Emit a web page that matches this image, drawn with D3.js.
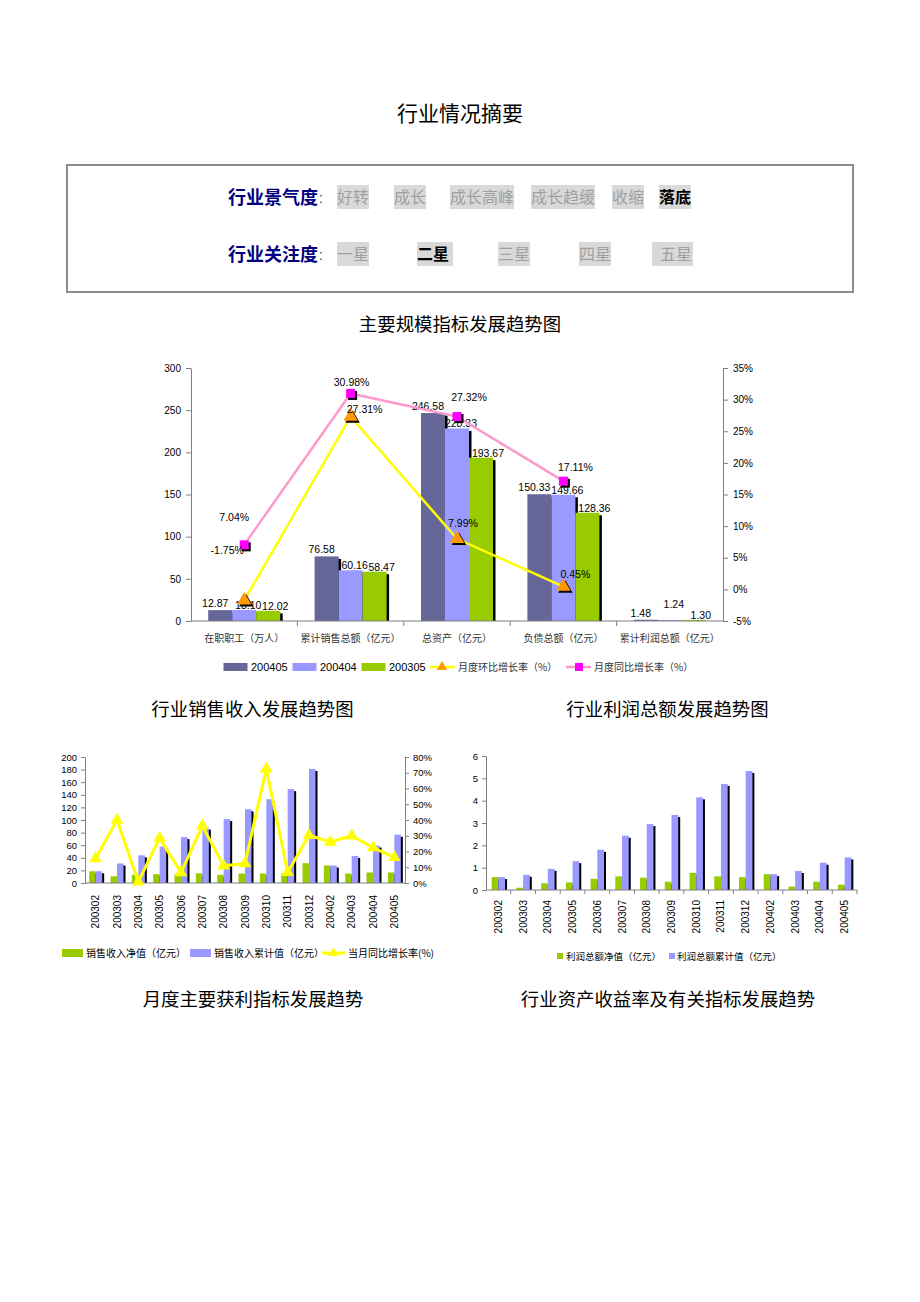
<!DOCTYPE html>
<html><head><meta charset="utf-8">
<script src="https://cdn.jsdelivr.net/npm/d3@7/dist/d3.min.js"></script>
<style>
body{margin:0;background:#fff}
svg{display:block}
text{font-family:"Liberation Sans",Arial,"Noto Sans CJK SC",sans-serif}
.cjk{font-family:"Noto Sans CJK SC","Liberation Sans",sans-serif}
</style>
</head><body>
<svg id="c" width="920" height="1302"></svg>
<script>
// ---------------- DATA ----------------
const pageTitle = "行业情况摘要";
const climateLabel = "行业景气度";
const climateOptions = ["好转","成长","成长高峰","成长趋缓","收缩","落底"];
const climateSelected = "落底";
const attentionLabel = "行业关注度";
const attentionOptions = ["一星","二星","三星","四星","五星"];
const attentionSelected = "二星";

const mainTitle = "主要规模指标发展趋势图";
const mainCategories = ["在职职工（万人）","累计销售总额（亿元）","总资产（亿元）","负债总额（亿元）","累计利润总额（亿元）"];
const mainSeriesNames = ["200405","200404","200305"];
const v200405 = [12.87, 76.58, 246.58, 150.33, 1.48];
const v200404 = [13.10, 60.16, 228.33, 149.66, 1.24];
const v200305 = [12.02, 58.47, 193.67, 128.36, 1.30];
const momRateName = "月度环比增长率（%）";
const momRate = [-1.75, 27.31, 7.99, 0.45];
const yoyRateName = "月度同比增长率（%）";
const yoyRate = [7.04, 30.98, 27.32, 17.11];
const mainLeftTicks = [0, 50, 100, 150, 200, 250, 300];
const mainRightTicks = [-5, 0, 5, 10, 15, 20, 25, 30, 35];

const months = ["200302","200303","200304","200305","200306","200307","200308","200309","200310","200311","200312","200402","200403","200404","200405"];
const salesTitle = "行业销售收入发展趋势图";
const salesNetName = "销售收入净值（亿元）";
const salesCumName = "销售收入累计值（亿元）";
const salesYoYName = "当月同比增长率(%)";
const salesNet = [18.6, 10.6, 13, 14, 14, 15.4, 13, 15, 15, 15, 31.4, 27.7, 15, 16.7, 16.7];
const salesCum = [18.6, 31, 44, 58, 72.8, 88, 101.5, 117, 133, 149, 181, 27.7, 43, 59.5, 76.6];
const salesYoY = [15.5, 40, 0.8, 28.5, 6.6, 36.3, 10.9, 12.4, 72.5, 6.8, 30.3, 26, 30, 22.5, 16.3];
const salesLeftTicks = [0,20,40,60,80,100,120,140,160,180,200];
const salesRightTicks = [0,10,20,30,40,50,60,70,80];

const profitTitle = "行业利润总额发展趋势图";
const profitNetName = "利润总额净值（亿元）";
const profitCumName = "利润总额累计值（亿元）";
const profitNet = [0.58, 0.1, 0.3, 0.34, 0.5, 0.61, 0.55, 0.37, 0.77, 0.61, 0.58, 0.71, 0.15, 0.37, 0.24];
const profitCum = [0.58, 0.68, 0.95, 1.29, 1.8, 2.43, 2.95, 3.36, 4.15, 4.75, 5.33, 0.71, 0.85, 1.22, 1.46];
const profitTicks = [0,1,2,3,4,5,6];

const footerTitles = ["月度主要获利指标发展趋势","行业资产收益率及有关指标发展趋势"];

// ---------------- STYLE / LAYOUT ----------------
const C = {dark:"#666699", blue:"#9999FF", green:"#99CC00", yellow:"#FFFF00", orange:"#FF9900", pink:"#FF99CC", magenta:"#FF00FF", axis:"#808080"};
const svg = d3.select("#c");

function styleAxis(g, fs){
  g.select(".domain").attr("stroke", C.axis).attr("stroke-width", 1);
  g.selectAll(".tick line").attr("stroke", C.axis);
  g.selectAll(".tick text").attr("fill","#000").attr("font-size", fs).attr("font-family","Liberation Sans, Arial, sans-serif");
}
function shadowBar(g, x, yTop, w, base, fill, off){
  const h = base - yTop;
  if (h <= 0) return;
  g.append("rect").attr("x", x+off).attr("y", yTop+off).attr("width", w).attr("height", Math.max(0,h-off)).attr("fill","#000");
  g.append("rect").attr("x", x).attr("y", yTop).attr("width", w).attr("height", h).attr("fill", fill);
}

// ---------------- HEADER ----------------
svg.append("text").attr("class","cjk").attr("x",460).attr("y",121).attr("text-anchor","middle")
  .attr("font-size",21).attr("fill","#000").text(pageTitle);

svg.append("rect").attr("x",67).attr("y",165).attr("width",786).attr("height",127)
  .attr("fill","#fff").attr("stroke","#8c8c8c").attr("stroke-width",2);

const climateX = [337, 394, 450, 531, 612, 659];
const attentionX = [337, 417, 498, 579, 652];
function optionRow(label, opts, sel, xs, cy){
  svg.append("text").attr("class","cjk").attr("x",228).attr("y",cy+6.5).attr("font-size",18)
    .attr("font-weight","bold").attr("fill","#000080").text(label);
  svg.append("text").attr("x",319).attr("y",cy+6).attr("font-size",14).attr("fill","#444").text(":");
  opts.forEach((o,i)=>{
    const isSel = o === sel;
    const last5 = (i===opts.length-1 && opts.length===5);
    const w = o.length*16 + (last5 ? 9 : 0) + (isSel && opts.length===5 ? 4 : 0);
    svg.append("rect").attr("x", xs[i]).attr("y", cy-12).attr("width", w).attr("height", 24).attr("fill","#d9d9d9");
    svg.append("text").attr("class","cjk").attr("x", xs[i] + (last5 ? 8 : 0)).attr("y", cy+6)
      .attr("font-size",16).attr("font-weight", isSel?"bold":"normal").attr("fill", isSel?"#000":"#a0a0a0").text(o);
  });
}
optionRow(climateLabel, climateOptions, climateSelected, climateX, 197);
optionRow(attentionLabel, attentionOptions, attentionSelected, attentionX, 254);

// ---------------- MAIN CHART ----------------
svg.append("text").attr("class","cjk").attr("x",460).attr("y",331).attr("text-anchor","middle")
  .attr("font-size",18.4).attr("fill","#000").text(mainTitle);

const M = {l:191, r:723, t:368, b:621};
const x0 = d3.scaleBand().domain(mainCategories).range([M.l, M.r]);
const groupW = 72;
const x1 = d3.scaleBand().domain(mainSeriesNames).range([(x0.bandwidth()-groupW)/2, (x0.bandwidth()+groupW)/2]);
const yL = d3.scaleLinear().domain([0,300]).range([M.b, M.t]);
const yR = d3.scaleLinear().domain([-5,35]).range([M.b, M.t]);
const mainG = svg.append("g");

const mainSeries = [
  {name:"200405", values:v200405, color:C.dark},
  {name:"200404", values:v200404, color:C.blue},
  {name:"200305", values:v200305, color:C.green}
];

// bars
mainCategories.forEach((c,i)=>{
  mainSeries.forEach(s=>{
    shadowBar(mainG, x0(c)+x1(s.name), yL(s.values[i]), x1.bandwidth(), yL(0), s.color, 2.5);
  });
});

// axes
const axL = mainG.append("g").attr("transform",`translate(${M.l},0)`)
  .call(d3.axisLeft(yL).tickValues(mainLeftTicks).tickSize(5).tickSizeOuter(0).tickPadding(5));
styleAxis(axL, 10);
const axR = mainG.append("g").attr("transform",`translate(${M.r},0)`)
  .call(d3.axisRight(yR).tickValues(mainRightTicks).tickSize(5).tickSizeOuter(0).tickPadding(5).tickFormat(d=>d+"%"));
styleAxis(axR, 10);
mainG.append("line").attr("x1",M.l).attr("x2",M.r).attr("y1",M.b).attr("y2",M.b).attr("stroke",C.axis);
mainCategories.slice(0,-1).forEach(c=>{
  const xx = x0(c)+x0.bandwidth();
  mainG.append("line").attr("x1",xx).attr("x2",xx).attr("y1",M.b).attr("y2",M.b+5).attr("stroke",C.axis);
});
mainCategories.forEach(c=>{
  mainG.append("text").attr("class","cjk").attr("x", x0(c)+x0.bandwidth()/2).attr("y", 642)
    .attr("text-anchor","middle").attr("font-size",10).attr("fill","#333").text(c);
});

// bar labels (series-wise nudges, as in the reference)
const barLabelDx = [-5, 4, 7];
const barLabelDy = [-3, -1, -1];
mainCategories.forEach((c,i)=>{
  mainSeries.forEach((s,k)=>{
    const lift = (s.values[i] < 5 && k === 1) ? -11 : 0;
    mainG.append("text").attr("x", x0(c)+x1(s.name)+x1.bandwidth()/2 + barLabelDx[k]).attr("y", yL(s.values[i]) + barLabelDy[k] + lift)
      .attr("text-anchor","middle").attr("font-size",10.5).attr("fill","#000").text(s.values[i].toFixed(2));
  });
});

// lines
const cx = i => x0(mainCategories[i]) + x0.bandwidth()/2;
const lineR = d3.line().x((d,i)=>cx(i)).y(d=>yR(d));
mainG.append("path").datum(yoyRate).attr("d", lineR).attr("fill","none").attr("stroke",C.pink).attr("stroke-width",2.5);
mainG.append("path").datum(momRate).attr("d", lineR).attr("fill","none").attr("stroke",C.yellow).attr("stroke-width",2.5);

const triSym = d3.symbol().type(d3.symbolTriangle).size(90);
yoyRate.forEach((d,i)=>{
  mainG.append("rect").attr("x",cx(i)-4.5+2).attr("y",yR(d)-4.5+2).attr("width",9).attr("height",9).attr("fill","#000");
  mainG.append("rect").attr("x",cx(i)-4.5).attr("y",yR(d)-4.5).attr("width",9).attr("height",9).attr("fill",C.magenta);
});
momRate.forEach((d,i)=>{
  mainG.append("path").attr("d",triSym).attr("transform",`translate(${cx(i)+2},${yR(d)+2})`).attr("fill","#000");
  mainG.append("path").attr("d",triSym).attr("transform",`translate(${cx(i)},${yR(d)})`).attr("fill",C.orange);
});
const yoyLabelOff = [[-10,-24],[1,-7],[12,-16],[12,-10]];
const momLabelOff = [[-17,-46],[14,-4],[6,-12],[12,-9]];
yoyRate.forEach((d,i)=>{
  mainG.append("text").attr("x",cx(i)+yoyLabelOff[i][0]).attr("y",yR(d)+yoyLabelOff[i][1])
    .attr("text-anchor","middle").attr("font-size",10.5).text(d.toFixed(2)+"%");
});
momRate.forEach((d,i)=>{
  mainG.append("text").attr("x",cx(i)+momLabelOff[i][0]).attr("y",yR(d)+momLabelOff[i][1])
    .attr("text-anchor","middle").attr("font-size",10.5).text(d.toFixed(2)+"%");
});

// legend main
const lg = svg.append("g");
const ly = 667;
[[223.5,"200405",C.dark],[292.5,"200404",C.blue],[361.5,"200305",C.green]].forEach(([lx,t,col])=>{
  lg.append("rect").attr("x",lx).attr("y",ly-4).attr("width",24).attr("height",8).attr("fill",col);
  lg.append("text").attr("x",lx+27.5).attr("y",ly+4).attr("font-size",11).text(t);
});
lg.append("line").attr("x1",430).attr("x2",455).attr("y1",ly).attr("y2",ly).attr("stroke",C.yellow).attr("stroke-width",2.5);
lg.append("path").attr("d",d3.symbol().type(d3.symbolTriangle).size(45)).attr("transform",`translate(442,${ly})`).attr("fill",C.orange);
lg.append("text").attr("class","cjk").attr("x",458).attr("y",ly+4).attr("font-size",10).attr("fill","#333").text(momRateName);
lg.append("line").attr("x1",566).attr("x2",591).attr("y1",ly).attr("y2",ly).attr("stroke",C.pink).attr("stroke-width",2.5);
lg.append("rect").attr("x",575).attr("y",ly-4).attr("width",8).attr("height",8).attr("fill",C.magenta);
lg.append("text").attr("class","cjk").attr("x",594).attr("y",ly+4).attr("font-size",10).attr("fill","#333").text(yoyRateName);

// ---------------- SUB TITLES ----------------
svg.append("text").attr("class","cjk").attr("x",252.5).attr("y",716).attr("text-anchor","middle").attr("font-size",18.4).text(salesTitle);
svg.append("text").attr("class","cjk").attr("x",667.5).attr("y",716).attr("text-anchor","middle").attr("font-size",18.4).text(profitTitle);

// ---------------- SALES CHART ----------------
const S = {l:85, r:405, t:757, b:883};
const sx = d3.scaleBand().domain(months).range([S.l,S.r]);
const sIn = d3.scaleBand().domain(["net","cum"]).range([(sx.bandwidth()-13)/2,(sx.bandwidth()+13)/2]);
const sy = d3.scaleLinear().domain([0,200]).range([S.b,S.t]);
const sy2 = d3.scaleLinear().domain([0,80]).range([S.b,S.t]);
const sg = svg.append("g");
months.forEach((m,i)=>{
  shadowBar(sg, sx(m)+sIn("net"), sy(salesNet[i]), sIn.bandwidth(), S.b, C.green, 2);
  shadowBar(sg, sx(m)+sIn("cum"), sy(salesCum[i]), sIn.bandwidth(), S.b, C.blue, 2);
});
const saL = sg.append("g").attr("transform",`translate(${S.l},0)`)
  .call(d3.axisLeft(sy).tickValues(salesLeftTicks).tickSize(4).tickSizeOuter(0).tickPadding(4));
styleAxis(saL, 9.5);
const saR = sg.append("g").attr("transform",`translate(${S.r},0)`)
  .call(d3.axisRight(sy2).tickValues(salesRightTicks).tickSize(4).tickSizeOuter(0).tickPadding(4).tickFormat(d=>d+"%"));
styleAxis(saR, 9.5);
sg.append("line").attr("x1",S.l).attr("x2",S.r).attr("y1",S.b).attr("y2",S.b).attr("stroke",C.axis);
months.forEach(m=>{
  sg.append("text").attr("transform",`translate(${sx(m)+sx.bandwidth()/2+3.5},895) rotate(-90)`)
    .attr("text-anchor","end").attr("font-size",10).text(m);
});
const scx = i => sx(months[i]) + sx.bandwidth()/2;
sg.append("path").datum(salesYoY).attr("d", d3.line().x((d,i)=>scx(i)).y(d=>sy2(d)))
  .attr("fill","none").attr("stroke",C.yellow).attr("stroke-width",3);
const triS = d3.symbol().type(d3.symbolTriangle).size(70);
salesYoY.forEach((d,i)=>{
  sg.append("path").attr("d",triS).attr("transform",`translate(${scx(i)},${sy2(d)})`).attr("fill",C.yellow);
});
const sly = 953;
sg.append("rect").attr("x",62).attr("y",sly-4).attr("width",21).attr("height",8).attr("fill",C.green);
sg.append("text").attr("class","cjk").attr("x",86).attr("y",sly+4).attr("font-size",10).text(salesNetName);
sg.append("rect").attr("x",190).attr("y",sly-4).attr("width",21).attr("height",8).attr("fill",C.blue);
sg.append("text").attr("class","cjk").attr("x",214).attr("y",sly+4).attr("font-size",10).text(salesCumName);
sg.append("line").attr("x1",322).attr("x2",345).attr("y1",sly).attr("y2",sly).attr("stroke",C.yellow).attr("stroke-width",3);
sg.append("path").attr("d",d3.symbol().type(d3.symbolTriangle).size(45)).attr("transform",`translate(333.5,${sly})`).attr("fill",C.yellow);
sg.append("text").attr("class","cjk").attr("x",348).attr("y",sly+4).attr("font-size",10).text(salesYoYName);

// ---------------- PROFIT CHART ----------------
const P = {l:486, r:857, t:756, b:890};
const px = d3.scaleBand().domain(months).range([P.l,P.r]);
const pIn = d3.scaleBand().domain(["net","cum"]).range([(px.bandwidth()-13.4)/2,(px.bandwidth()+13.4)/2]);
const py = d3.scaleLinear().domain([0,6]).range([P.b,P.t]);
const pg = svg.append("g");
months.forEach((m,i)=>{
  shadowBar(pg, px(m)+pIn("net"), py(profitNet[i]), pIn.bandwidth(), P.b, C.green, 2);
  shadowBar(pg, px(m)+pIn("cum"), py(profitCum[i]), pIn.bandwidth(), P.b, C.blue, 2);
});
const paL = pg.append("g").attr("transform",`translate(${P.l},0)`)
  .call(d3.axisLeft(py).tickValues(profitTicks).tickSize(4).tickSizeOuter(0).tickPadding(4).tickFormat(d3.format("d")));
styleAxis(paL, 9.5);
pg.append("line").attr("x1",P.l).attr("x2",P.r).attr("y1",P.b).attr("y2",P.b).attr("stroke",C.axis);
months.forEach(m=>{
  const xx = px(m)+px.bandwidth();
  pg.append("line").attr("x1",xx).attr("x2",xx).attr("y1",P.b).attr("y2",P.b+4).attr("stroke",C.axis);
  pg.append("text").attr("transform",`translate(${px(m)+px.bandwidth()/2+3.5},900) rotate(-90)`)
    .attr("text-anchor","end").attr("font-size",10).text(m);
});
const ply = 956;
pg.append("rect").attr("x",557).attr("y",ply-3).attr("width",6).attr("height",6).attr("fill",C.green);
pg.append("text").attr("class","cjk").attr("x",566).attr("y",ply+3.5).attr("font-size",9.5).text(profitNetName);
pg.append("rect").attr("x",669).attr("y",ply-3).attr("width",6).attr("height",6).attr("fill",C.blue);
pg.append("text").attr("class","cjk").attr("x",677).attr("y",ply+3.5).attr("font-size",9.5).text(profitCumName);

// ---------------- FOOTER TITLES ----------------
svg.append("text").attr("class","cjk").attr("x",253).attr("y",1006).attr("text-anchor","middle").attr("font-size",18.4).text(footerTitles[0]);
svg.append("text").attr("class","cjk").attr("x",668).attr("y",1006).attr("text-anchor","middle").attr("font-size",18.4).text(footerTitles[1]);
</script>
</body></html>
